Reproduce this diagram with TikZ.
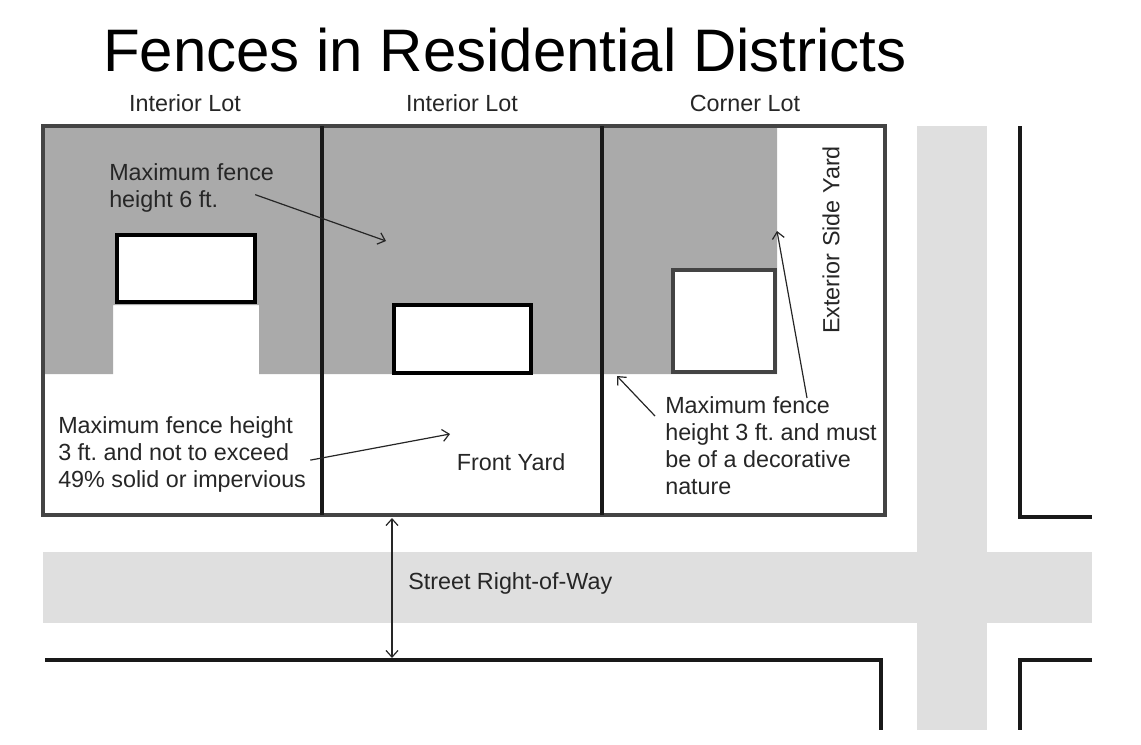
\documentclass[tikz,border=0pt]{standalone}
\usepackage{fontspec}
\setmainfont{Liberation Sans}
\usepackage{tikz}
\usetikzlibrary{arrows.meta}
\definecolor{yardgray}{HTML}{AAAAAA}
\definecolor{roadgray}{HTML}{DFDFDF}
\definecolor{edgegray}{HTML}{444444}
\newcommand{\lbl}{\fontsize{17.5}{20.25}\selectfont}
\frenchspacing

\begin{document}
\begin{tikzpicture}[x=0.75pt,y=-0.75pt,>={Straight Barb[length=5pt,width=9pt]},
  txt/.style={font=\lbl,inner sep=0pt,align=left,text=black!85},
  house/.style={draw=black,line width=3pt,fill=white},
  divider/.style={draw=black!90,line width=2.3pt},
  blockline/.style={draw=black!90,line width=3pt},
  pointer/.style={->,line width=0.9pt,draw=black!85}]
\useasboundingbox (0,0) rectangle (1141,744);
% streets
\fill[roadgray] (917,126) rectangle (987,730);
\fill[roadgray] (43,552) rectangle (1092,623);
% area where 6 ft. fences are allowed
\fill[yardgray] (43,126) -| (777,374) -| (259,305) -| (113,374) -| cycle;
% houses
\draw[house] (117,235) rectangle (255,302);
\draw[house] (394,305) rectangle (531,373);
\draw[house,draw=edgegray] (673,270) rectangle (775,372);
% lots
\draw[edgegray,line width=2.6pt] (43,126) rectangle (885,515);
\draw[divider] (322,126) -- (322,515);
\draw[divider] (602,126) -- (602,515);
% neighbouring blocks
\draw[blockline] (1020,126) |- (1092,517);
\draw[blockline] (1092,660) -| (1020,730);
\draw[blockline] (45,660) -| (881,730);
% titles
\node[font=\fontsize{45}{54}\selectfont,inner sep=0pt,anchor=base] (title) at (505,71) {Fences in Residential Districts};
\node[txt,anchor=base] (lotA) at (185,111) {Interior Lot};
\node[txt,anchor=base] (lotB) at (462,111) {Interior Lot};
\node[txt,anchor=base] (lotC) at (745,111) {Corner Lot};
% labels
\node[txt,anchor=north west] (sixft) at (109,163) {Maximum fence\\height 6 ft.};
\node[txt,anchor=north west] (threeft) at (58,416) {Maximum fence height\\3 ft. and not to exceed\\49\% solid or impervious};
\node[txt] (front) at (511,462) {Front Yard};
\node[txt,anchor=north west] (deco) at (665,396) {Maximum fence\\height 3 ft. and must\\be of a decorative\\nature};
\node[txt,rotate=90] (side) at (831,240) {Exterior Side Yard};
\node[txt,anchor=west] (row) at (408,583) {Street Right-of-Way};
% pointers
\coordinate (sixtip) at (386,241);
\coordinate (fronttip) at (450,434);
\coordinate (cornertip) at (617,376);
\coordinate (sidetip) at (777,231);
\coordinate (rowN) at (392,518);
\coordinate (rowS) at (392,658);
\draw[pointer] ([shift={(-19,7)}]sixft.east) -- (sixtip);
\draw[pointer] ([shift={(4,6)}]threeft.east) -- (fronttip);
\draw[pointer] ([shift={(-10,20)}]deco.north west) -- (cornertip);
\draw[pointer] ([shift={(142,2)}]deco.north west) -- (sidetip);
\draw[pointer,<->] (rowN) -- (rowS);
\end{tikzpicture}
\end{document}
